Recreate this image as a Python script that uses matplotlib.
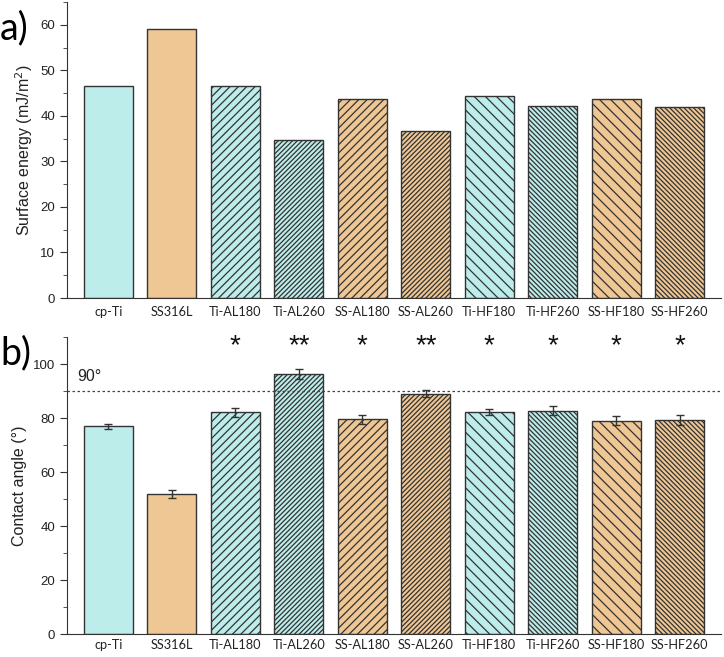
import matplotlib
matplotlib.use('Agg')
import matplotlib.pyplot as plt
from matplotlib.ticker import MultipleLocator
import numpy

samples = ['cp-Ti', 'SS316L', 'Ti-AL180', 'Ti-AL260', 'SS-AL180', 'SS-AL260',
           'Ti-HF180', 'Ti-HF260', 'SS-HF180', 'SS-HF260']
surface_energy = [46.5, 59.0, 46.5, 34.7, 43.6, 36.6, 44.3, 42.1, 43.8, 41.9]
contact_angle = [77.0, 51.9, 82.1, 96.2, 79.5, 89.1, 82.3, 82.8, 79.1, 79.4]
contact_err = [1.0, 1.6, 1.8, 1.8, 1.6, 1.4, 1.2, 1.8, 1.5, 1.9]
stars = ['', '', '*', '**', '*', '**', '*', '*', '*', '*']

Cyan = '#BDEDEA'
Tan = '#EFC795'
colors = [Cyan, Tan, Cyan, Cyan, Tan, Tan, Cyan, Cyan, Tan, Tan]
hatches = ['', '', '////', '/' * 7, '////', '/' * 7,
           '\\' * 3, '\\' * 7, '\\' * 3, '\\' * 7]

plt.rcParams['hatch.linewidth'] = 0.9
plt.rcParams['hatch.color'] = '#3a3a3a'

fig = plt.figure(figsize=(7.24, 6.57), dpi=100)
axA = fig.add_axes([0.0925, 0.5464, 0.9035, 0.4506])
axB = fig.add_axes([0.0925, 0.0345, 0.9035, 0.4525])

x = numpy.arange(len(samples))


def style_axis(ax, pad):
    for side in ['top', 'right']:
        ax.spines[side].set_visible(False)
    ax.spines['left'].set_color('#333333')
    ax.spines['bottom'].set_color('#333333')
    ax.tick_params(axis='y', which='both', direction='out', colors='#333333',
                   labelcolor='#222222', labelsize=9.5)
    ax.tick_params(axis='y', which='major', length=5)
    ax.tick_params(axis='y', which='minor', length=3)
    ax.tick_params(axis='x', length=0, pad=pad)
    for lab in ax.get_yticklabels():
        lab.set_family('Liberation Sans')
    ax.set_xticks(x)
    ax.set_xticklabels(samples, family='Lato', fontsize=9.2, color='#222222')
    ax.set_xlim(-0.65, 9.65)


bars = axA.bar(x, surface_energy, width=0.77, color=colors, edgecolor='#333333',
               linewidth=1.0)
for b, h in zip(bars, hatches):
    b.set_hatch(h)
axA.set_ylim(0, 65)
axA.yaxis.set_major_locator(MultipleLocator(10))
axA.yaxis.set_minor_locator(MultipleLocator(5))
style_axis(axA, 6)
axA.set_ylabel('Surface energy (mJ/m$^2$)', family='Liberation Sans', fontsize=11.5,
               color='#222222')

bars = axB.bar(x, contact_angle, width=0.77, color=colors, edgecolor='#333333',
               linewidth=1.0, yerr=contact_err, capsize=3,
               error_kw=dict(ecolor='#333333', elinewidth=1.0, capthick=1.0))
for b, h in zip(bars, hatches):
    b.set_hatch(h)
axB.axhline(90, color='#444444', linestyle=(0, (2, 2)), linewidth=0.9)
axB.text(-0.3, 95.5, '90°', family='Liberation Sans', fontsize=11.5, ha='center',
         va='center', color='#222222')
for xi, s in zip(x, stars):
    if s:
        axB.text(xi, 106.5, s, fontsize=20, ha='center', va='center', color='#111111',
                 family='Liberation Sans')
axB.set_ylim(0, 110)
axB.yaxis.set_major_locator(MultipleLocator(20))
axB.yaxis.set_minor_locator(MultipleLocator(10))
style_axis(axB, 3)
axB.set_ylabel('Contact angle (°)', family='Liberation Sans', fontsize=11.5,
               color='#222222')

fig.text(0.0, 0.957, 'a)', fontsize=27, family='Lato', va='center', ha='left')
fig.text(0.0, 0.463, 'b)', fontsize=27, family='Lato', va='center', ha='left')

fig.savefig('out.png', dpi=100)
